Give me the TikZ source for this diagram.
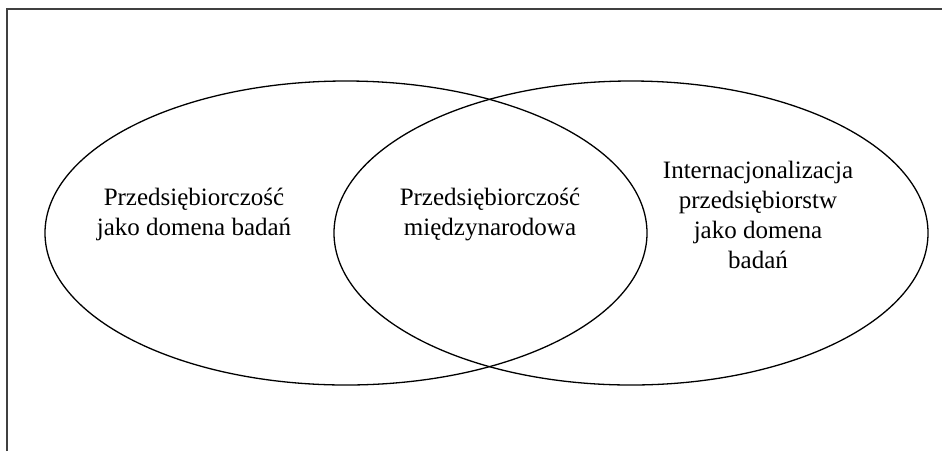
\documentclass[tikz,border=0pt]{standalone}
\usepackage{fontspec}
\setmainfont{Liberation Serif}
\usetikzlibrary{shapes.geometric}
\tikzset{field/.style={draw,ellipse,line width=1.3pt,inner sep=0pt},
	label/.style={align=center,font=\fontsize{25}{30}\selectfont}}

\begin{document}
\begin{tikzpicture}[x=1pt,y=-1pt]

		\useasboundingbox (0,0) rectangle (942,451);

		\coordinate (LC) at (346,233);
		\coordinate (RC) at (631,233);
		\coordinate (TL) at (7,9);

		% frame: only top and left edge
		\draw [black!75,line width=1.1pt] (TL |- 0,451) -- (TL) -- (942,9);

		\node [field,minimum width=602pt,minimum height=304pt] (left) at (LC) {};
		\node [field,minimum width=594pt,minimum height=304pt] (right) at (RC) {};

		\node [label] (textL) at (194,214)
			{Przedsiębiorczość\\jako domena badań};
		\node [label] (textM) at (490,214)
			{Przedsiębiorczość\\międzynarodowa};
		\node [label] (textR) at (758,215)
			{Internacjonalizacja\\przedsiębiorstw\\jako domena\\badań};

	\end{tikzpicture}
\end{document}
